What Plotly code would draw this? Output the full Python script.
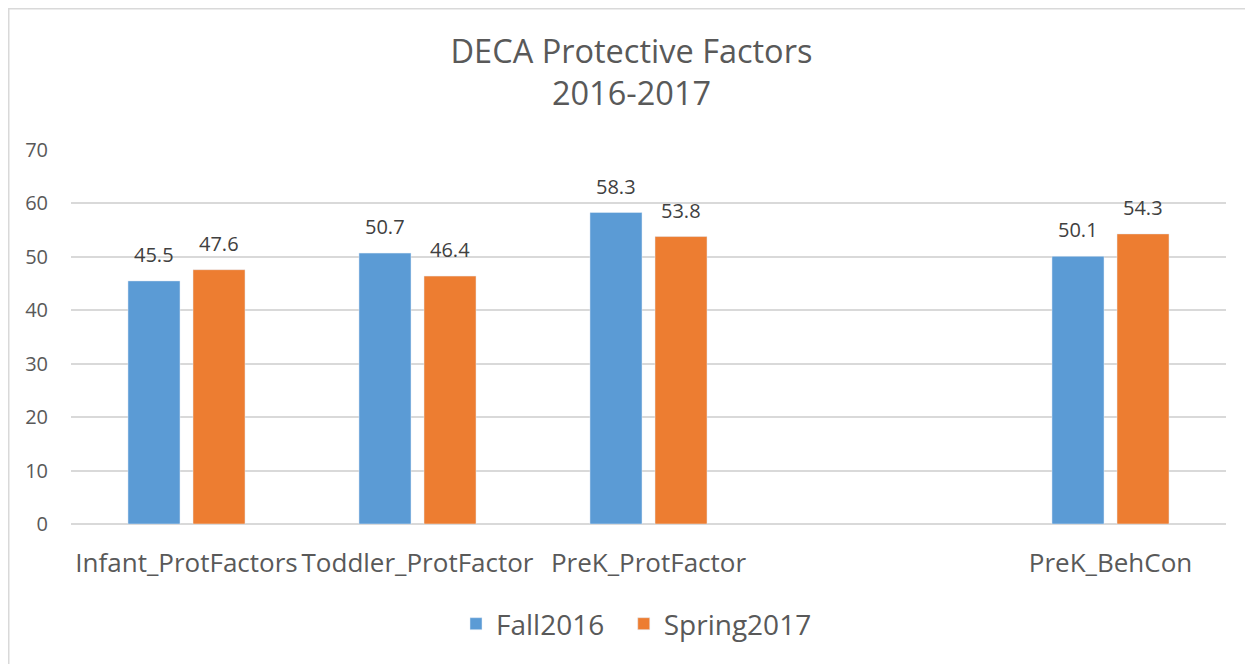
import plotly.graph_objects as go

categories = ["Infant_ProtFactors", "Toddler_ProtFactor", "PreK_ProtFactor", " ", "PreK_BehCon"]
fall2016 = [45.5, 50.7, 58.3, None, 50.1]
spring2017 = [47.6, 46.4, 53.8, None, 54.3]
y_ticks = [0, 10, 20, 30, 40, 50, 60, 70]

FONT = "Open Sans"
TXT = "#595959"
# the page body has an 8px margin, so the figure is drawn 8px in from the top-left
W, H = 1245, 656
L, R, T, B = 63, 27, 142, 140
PW, PH = W - L - R, H - T - B

fig = go.Figure()
fig.add_trace(go.Bar(name="Fall2016\u00a0\u00a0", x=categories, y=fall2016, marker_color="#5B9BD5",
                     offsetgroup="a"))
fig.add_trace(go.Bar(name="Spring2017", x=categories, y=spring2017, marker_color="#ED7D31",
                     offsetgroup="b"))

BARGAP = 0.437
ann = []
slot = 0.5 * (1 - BARGAP)
for vals, sgn in ((fall2016, -1), (spring2017, 1)):
    for i, v in enumerate(vals):
        if v is None:
            continue
        ann.append(dict(x=i + sgn * slot / 2, y=v, xref="x", yref="y", text="%.1f" % v,
                        showarrow=False, yanchor="bottom", yshift=11,
                        font=dict(family=FONT, size=20, color="#404040")))

fig.update_layout(
    width=W, height=H,
    margin=dict(l=L, r=R, t=T, b=B, autoexpand=False),
    paper_bgcolor="white", plot_bgcolor="white",
    title=dict(text="DECA Protective Factors<br>2016-2017", x=(631.5 - 8) / W, xref="container",
               xanchor="center", y=(H - 55) / H, yanchor="top",
               font=dict(family=FONT, size=32.5, color=TXT)),
    barmode="group", bargap=BARGAP, bargroupgap=0.2,
    showlegend=True,
    legend=dict(orientation="h", x=(636.5 - 71) / PW, xanchor="center", y=-100 / PH, yanchor="middle",
                font=dict(family=FONT, size=28, color=TXT)),
    annotations=ann,
    xaxis=dict(type="category", tickfont=dict(family=FONT, size=26, color=TXT), automargin=False,
               showline=False, ticks="", showgrid=False, ticklabelstandoff=21),
    yaxis=dict(range=[0, 70], tickvals=y_ticks, showgrid=True, gridcolor="#D9D9D9", gridwidth=1.5,
               zeroline=True, zerolinecolor="#D9D9D9", zerolinewidth=1.5, ticks="",
               ticklabelstandoff=22, automargin=False,
               tickfont=dict(family=FONT, size=20, color=TXT)),
    shapes=[dict(type="rect", xref="paper", yref="paper",
                 x0=(0.75 - L) / PW, x1=(1239 - L) / PW,
                 y0=-(H + 5 - (H - B)) / PH, y1=1 + (T - 0.75) / PH,
                 line=dict(color="#D9D9D9", width=1.5), fillcolor="rgba(0,0,0,0)", layer="below")],
)

fig.write_html("out.html")
